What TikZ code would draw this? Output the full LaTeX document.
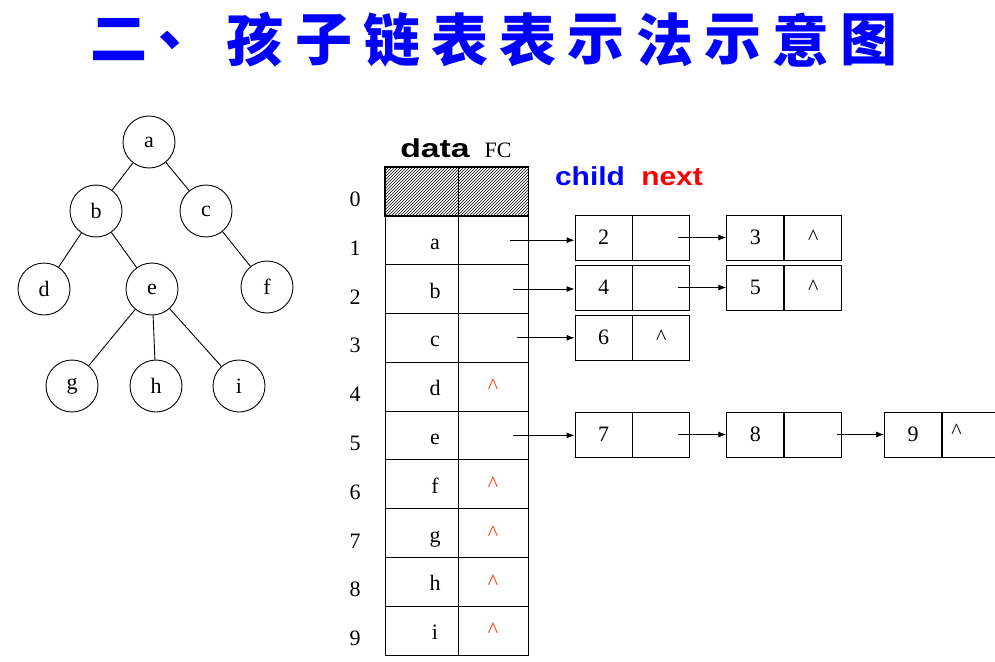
\documentclass[tikz,border=0pt]{standalone}
\usepackage{fontspec}
\setmainfont{Liberation Serif}
\newfontfamily\cjk{Noto Sans CJK SC}
\newfontfamily\headfont{Liberation Sans}
\usetikzlibrary{arrows.meta, patterns, positioning}
\definecolor{titleblue}{RGB}{0,0,255}
\definecolor{caretred}{RGB}{255,51,0}

\begin{document}
\begin{tikzpicture}[x=1pt,y=-1pt,line width=0.9pt]
\clip (0,0) rectangle (995,661);

\tikzset{vertex/.style = {shape=circle,draw,minimum size=52pt,inner sep=0pt,font=\fontsize{22}{22}\selectfont}}
\tikzset{edge/.style = {-{Latex[length=8pt,width=6pt]}}}
\tikzset{tcell/.style = {draw,minimum height=48.8pt,inner sep=0pt}}
\tikzset{lcell/.style = {draw,minimum width=57pt,minimum height=45pt,inner sep=0pt,font=\fontsize{22}{22}\selectfont}}
\tikzset{txt/.style = {inner sep=0pt,anchor=base,font=\fontsize{22}{22}\selectfont}}
\tikzset{headtxt/.style = {inner sep=0pt,font=\fontsize{26}{26}\headfont\bfseries}}

%title
\foreach \ch [count=\i from 0] in {二,、,孩,子,链,表,表,示,法,示,意,图}
  \node[inner sep=0pt,text=titleblue,font=\fontsize{57}{57}\cjk\bfseries] (t\i) at (119+68.2*\i,40) {\ch};

%tree
\node[vertex] (a) at (149,142) {a};
\node[vertex] (b) at (96,211) {b};
\node[vertex] (c) at (206,211) {c};
\node[vertex] (d) at (44,289) {d};
\node[vertex] (e) at (152,289) {e};
\node[vertex] (f) at (267,287) {f};
\node[vertex] (g) at (72,386) {g};
\node[vertex] (h) at (156,386) {h};
\node[vertex] (i) at (239,386) {i};
\draw (a) -- (b);
\draw (a) -- (c);
\draw (b) -- (d);
\draw (b) -- (e);
\draw (c) -- (f);
\draw (e) -- (g);
\draw (e) -- (h);
\draw (e) -- (i);

%table
\node[headtxt,anchor=base] (hdata) at (435,157) {\scalebox{1.3}[1]{data}};
\node[txt] (hfc) at (498,157) {FC};
\foreach \k in {0,...,9} {
  \node[tcell,minimum width=73pt] (d\k) at (421.5,167+48.8*\k+24.4) {};
  \node[tcell,minimum width=70pt] (f\k) at (493,167+48.8*\k+24.4) {};
  \node[txt] (idx\k) at (355,167+48.8*\k+24.4+15) {\k};
}
\fill[pattern=north east lines] (d0.south west) rectangle (f0.north east);
\draw (d0.south west) rectangle (f0.north east);
\draw (d0.north east) -- (d0.south east);
\foreach \k/\lt in {1/a,2/b,3/c,4/d,5/e,6/f,7/g,8/h,9/i}
  \node[txt] (lt\k) at (435,167+48.8*\k+24.4+9) {\lt};
\foreach \k in {4,6,7,8,9}
  \node[txt,anchor=center,text=caretred] (nil\k) at (493,167+48.8*\k+24.4) {\^{}};

%child next
\node[headtxt,text=blue,anchor=base] (hchild) at (590,185) {\scalebox{1.15}[1]{child}};
\node[headtxt,text=red,anchor=base] (hnext) at (672,185) {\scalebox{1.15}[1]{next}};

%child lists
\node[lcell] (n2) at (603.5,237.5) {2};
\node[lcell,right=0pt of n2] (n2n) {};
\node[lcell,right=36pt of n2n] (n3) {3};
\node[lcell,right=0pt of n3] (n3n) {\^{}};
\node[lcell] (n4) at (603.5,287.5) {4};
\node[lcell,right=0pt of n4] (n4n) {};
\node[lcell,right=36pt of n4n] (n5) {5};
\node[lcell,right=0pt of n5] (n5n) {\^{}};
\node[lcell] (n6) at (603.5,337.5) {6};
\node[lcell,right=0pt of n6] (n6n) {\^{}};
\node[lcell] (n7) at (603.5,434.5) {7};
\node[lcell,right=0pt of n7] (n7n) {};
\node[lcell,right=36pt of n7n] (n8) {8};
\node[lcell,right=0pt of n8] (n8n) {};
\node[lcell,right=42pt of n8n] (n9) {9};
\node[lcell,right=0pt of n9,minimum width=62pt] (n9n) {};
\node[txt,anchor=center] (nil9n) at ([xshift=-17pt,yshift=3pt]n9n.center) {\^{}};

%edges
\draw[edge] ([xshift=17pt]f1.center) -- (f1.center -| n2.west);
\draw[edge] ([xshift=20pt]f2.center) -- (f2.center -| n4.west);
\draw[edge] ([xshift=24pt]f3.center) -- (f3.center -| n6.west);
\draw[edge] ([xshift=20pt]f5.center) -- (f5.center -| n7.west);
\draw[edge] ([xshift=17pt]n2n.center) -- (n3.west);
\draw[edge] ([xshift=17pt]n4n.center) -- (n5.west);
\draw[edge] ([xshift=17pt]n7n.center) -- (n8.west);
\draw[edge] ([xshift=-5pt]n8n.east) -- (n9.west);

\end{tikzpicture}
\end{document}
